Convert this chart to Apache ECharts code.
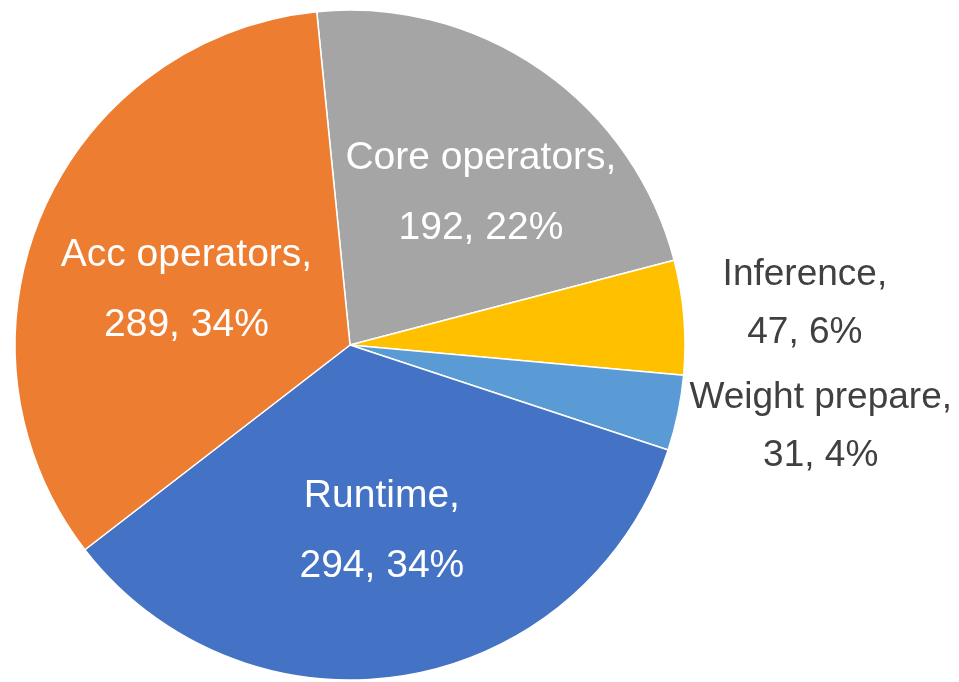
<!DOCTYPE html>
<html>
<head>
<meta charset="utf-8">
<style>
  html, body { margin: 0; padding: 0; background: #ffffff; }
  #chart { width: 959px; height: 682px; }
</style>
<script src="https://cdn.jsdelivr.net/npm/echarts@6/dist/echarts.min.js"></script>
</head>
<body>
<div id="chart"></div>
<script>
// Time breakdown by stage (slices drawn clockwise from just left of 12 o'clock)
const categories = ['Core operators', 'Inference', 'Weight prepare', 'Runtime', 'Acc operators'];
const values = [192, 47, 31, 294, 289];
const colors = ['#a5a5a5', '#ffc000', '#5b9bd5', '#4472c4', '#ed7d31'];
// Which slices carry their label on the slice, and which beside the pie
const insideLabels = ['Core operators', 'Runtime', 'Acc operators'];

// Layout: pie geometry and small per-label nudges from the ring position
const FONT = '"Liberation Sans", Arial, sans-serif';
const CENTER = [350, 345];
const START = 95.7;
const labelNudge = {
  'Core operators': [23, 3],
  'Inference': [-14, -2],
  'Weight prepare': [10, -14],
  'Runtime': [0, 0],
  'Acc operators': [10, 20]
};

const sliceData = categories.map((name, i) => ({
  name: name,
  value: values[i],
  itemStyle: { color: colors[i] }
}));

function labelData(inside) {
  return categories.map((name, i) => ({
    name: name,
    value: values[i],
    label: {
      show: insideLabels.includes(name) === inside,
      offset: labelNudge[name]
    }
  }));
}

const labelRing = {
  type: 'pie',
  center: CENTER,
  startAngle: START,
  clockwise: true,
  silent: true,
  avoidLabelOverlap: false,
  percentPrecision: 0,
  itemStyle: { color: 'rgba(0,0,0,0)', borderWidth: 0 },
  emphasis: { disabled: true },
  labelLine: { show: false },
  animation: false
};

const chart = echarts.init(document.getElementById('chart'), null, { renderer: 'canvas' });
chart.setOption({
  backgroundColor: '#ffffff',
  animation: false,
  series: [
    {
      type: 'pie',
      center: CENTER,
      radius: [0, 335],
      startAngle: START,
      clockwise: true,
      percentPrecision: 0,
      avoidLabelOverlap: false,
      data: sliceData,
      itemStyle: { borderColor: '#ffffff', borderWidth: 1.5 },
      label: { show: false },
      labelLine: { show: false },
      emphasis: { disabled: true }
    },
    Object.assign({}, labelRing, {
      radius: [0, 372],
      data: labelData(true),
      label: {
        position: 'inside',
        formatter: '{b},\n{c}, {d}%',
        color: '#ffffff',
        fontFamily: FONT,
        fontSize: 39,
        lineHeight: 70,
        align: 'center'
      }
    }),
    Object.assign({}, labelRing, {
      radius: [0, 935],
      data: labelData(false),
      label: {
        position: 'inside',
        formatter: '{b},\n{c}, {d}%',
        color: '#404040',
        fontFamily: FONT,
        fontSize: 37,
        lineHeight: 58,
        align: 'center'
      }
    })
  ]
});
</script>
</body>
</html>
